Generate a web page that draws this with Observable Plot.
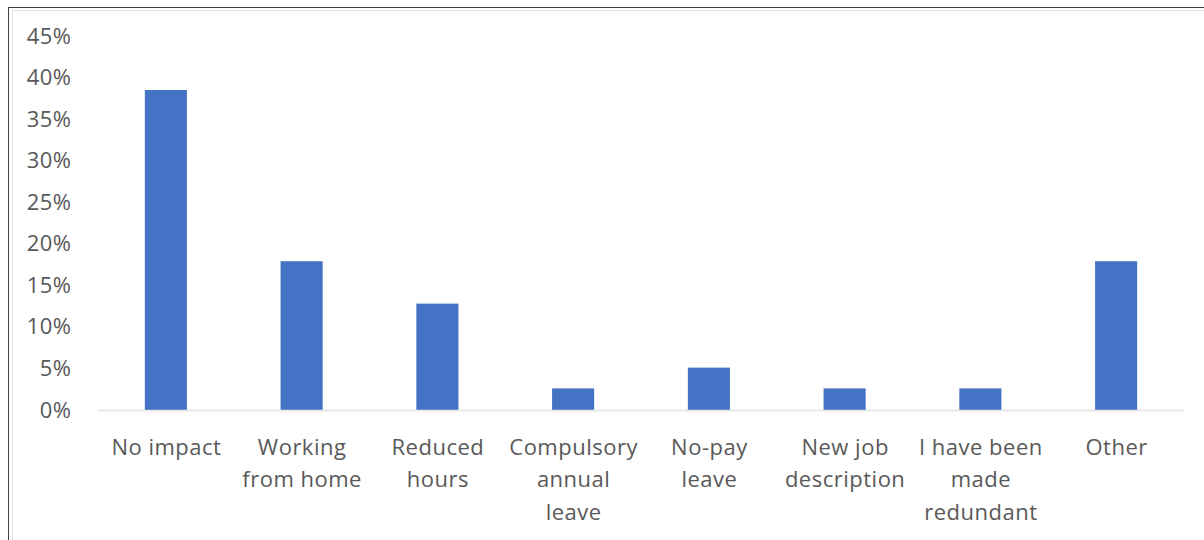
<!DOCTYPE html>
<html>
<head>
<meta charset="utf-8">
<script src="https://cdn.jsdelivr.net/npm/d3@7"></script>
<script src="https://cdn.jsdelivr.net/npm/@observablehq/plot@0.6"></script>
<style>
  html, body { margin: 0; padding: 0; background: #fff; }
  #wrap { position: relative; width: 1204px; height: 540px; overflow: hidden; }
  #outer { position: absolute; left: 8px; top: 7px; width: 1210px; height: 560px; border: 1.5px solid #404040; box-sizing: border-box; }
  #inner { position: absolute; left: 12px; top: 10px; width: 1210px; height: 560px; border: 1px solid #e0e0e0; box-sizing: border-box; }
  #chart { position: absolute; left: 0; top: 0; }
  #chart svg text { letter-spacing: 0.5px; }
</style>
</head>
<body>
<div id="wrap">
  <div id="outer"></div>
  <div id="inner"></div>
  <div id="chart"></div>
</div>
<script>
const categories = ["No impact", "Working from home", "Reduced hours", "Compulsory annual leave", "No-pay leave", "New job description", "I have been made redundant", "Other"];
const tickLabels = ["No impact", "Working\nfrom home", "Reduced\nhours", "Compulsory\nannual\nleave", "No-pay\nleave", "New job\ndescription", "I have been\nmade\nredundant", "Other"];
const shares = [0.385, 0.179, 0.128, 0.026, 0.051, 0.026, 0.026, 0.179];
const yTicks = [0, 0.05, 0.10, 0.15, 0.20, 0.25, 0.30, 0.35, 0.40, 0.45];

const data = categories.map((c, i) => ({category: c, value: shares[i]}));
const labelOf = new Map(categories.map((c, i) => [c, tickLabels[i]]));

const chart = Plot.plot({
  width: 1204,
  height: 540,
  marginLeft: 98,
  marginRight: 20,
  marginTop: 36,
  marginBottom: 130,
  style: {fontFamily: "'Open Sans', sans-serif", fontSize: "22px", color: "#595959", background: "transparent"},
  x: {domain: categories, paddingInner: 0.69, paddingOuter: 0.345, round: false, label: null},
  y: {domain: [0, 0.45], label: null},
  marks: [
    Plot.gridY(yTicks, {stroke: "#d9d9d9", strokeOpacity: 1, strokeWidth: 1.5, x1: 98, x2: 1186}),
    Plot.barY(data, {x: "category", y: "value", fill: "#4472C4"}),
    Plot.ruleY([0], {stroke: "#d9d9d9", strokeOpacity: 0.6, strokeWidth: 2}),
    Plot.axisY({ticks: yTicks, tickFormat: d3.format(".0%"), tickSize: 0, tickPadding: 27, label: null, fill: "#595959"}),
    Plot.axisX({tickFormat: d => labelOf.get(d), tickSize: 0, tickPadding: 21, lineHeight: 1.48, label: null, fill: "#595959"})
  ]
});
document.getElementById("chart").appendChild(chart);
</script>
</body>
</html>
